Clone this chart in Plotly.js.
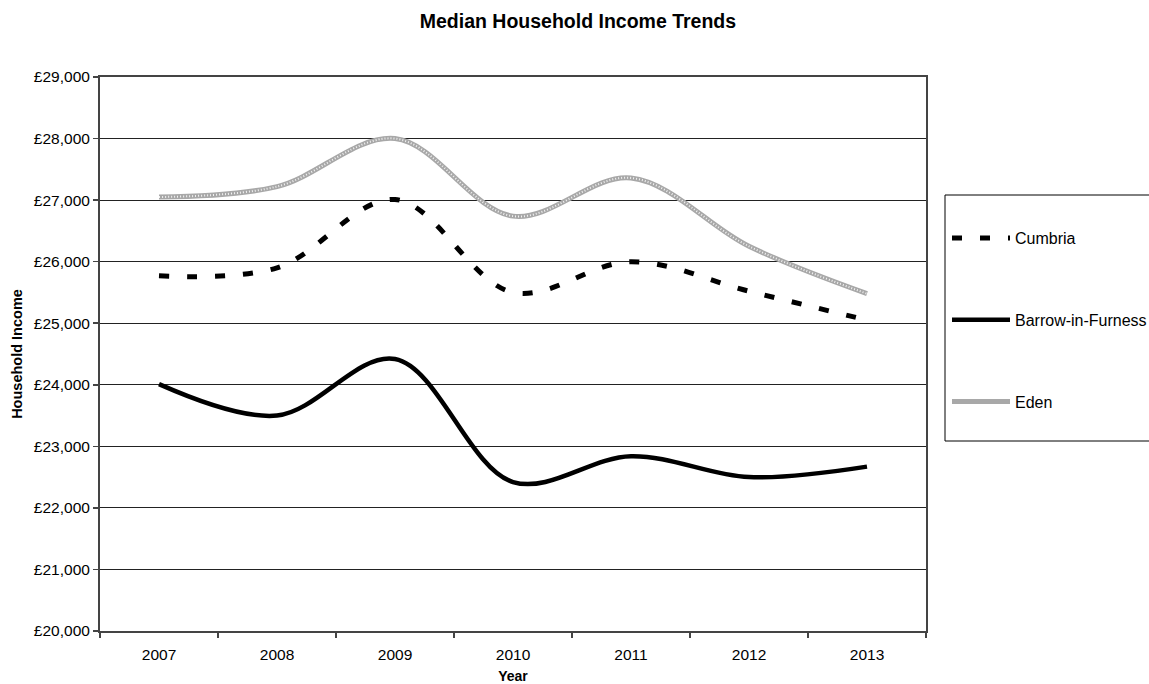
<!DOCTYPE html>
<html>
<head>
<meta charset="utf-8">
<script src="https://cdn.plot.ly/plotly-3.0.1.min.js"></script>
<style>html,body{margin:0;padding:0;background:#fff;}#chart{width:1149px;height:684px;}</style>
</head>
<body>
<div id="chart"></div>
<script>
var years = ['2007', '2008', '2009', '2010', '2011', '2012', '2013'];
var cumbria = [25770, 25900, 27010, 25500, 26000, 25520, 25050];
var barrow = [24010, 23500, 24420, 22420, 22840, 22500, 22670];
var eden = [27050, 27220, 28000, 26740, 27360, 26250, 25480];

var FONT = 'Liberation Sans, Arial, sans-serif';

var PL = 100, PR = 926, PT = 77, PB = 631;
function px2x(px) { return (px - PL) / (PR - PL); }
function px2y(py) { return (PB - py) / (PB - PT); }

var traces = [
  {
    x: years, y: cumbria, name: 'Cumbria', type: 'scatter', mode: 'lines',
    legendgroup: 'a',
    line: {color: '#000', width: 5, dash: '10px,18px', shape: 'spline', smoothing: 1}
  },
  {
    x: years, y: barrow, name: 'Barrow-in-Furness', type: 'scatter', mode: 'lines',
    legendgroup: 'b',
    line: {color: '#000', width: 4.5, shape: 'spline', smoothing: 1}
  },
  {
    x: years, y: eden, name: 'Eden', type: 'scatter', mode: 'lines',
    legendgroup: 'c',
    line: {color: '#a8a8a8', width: 5, shape: 'spline', smoothing: 1}
  },
  {
    x: years, y: eden, name: 'Eden', type: 'scatter', mode: 'lines',
    legendgroup: 'c', showlegend: false, hoverinfo: 'skip',
    line: {color: '#f2f2f2', width: 2, dash: '1px,2px', shape: 'spline', smoothing: 1}
  }
];

var layout = {
  width: 1149, height: 684,
  margin: {l: PL, r: 1149 - PR, t: PT, b: 684 - PB},
  paper_bgcolor: '#fff', plot_bgcolor: '#fff',
  font: {family: FONT, color: '#000', size: 15},
  separators: '.,',
  title: {
    text: '<b>Median Household Income Trends</b>',
    font: {family: FONT, size: 19.5, color: '#000'},
    x: 0.503, xref: 'container', xanchor: 'center',
    y: 1 - 21 / 684, yref: 'container', yanchor: 'middle'
  },
  xaxis: {
    type: 'category',
    range: [-0.5, 6.5],
    tickson: 'boundaries',
    ticks: 'outside', ticklen: 5, tickcolor: '#444', tickwidth: 1.5,
    ticklabelstandoff: 8,
    showline: true, linecolor: '#444', linewidth: 2, mirror: true,
    showgrid: false, zeroline: false,
    tickfont: {family: FONT, size: 15.5, color: '#000'},
    title: {text: '<b>Year</b>', font: {family: FONT, size: 14, color: '#000'}, standoff: 18}
  },
  yaxis: {
    range: [20000, 29000], dtick: 1000, tick0: 20000,
    tickprefix: '£', tickformat: ',.0f',
    ticks: 'outside', ticklen: 5, tickcolor: '#444', tickwidth: 1.5,
    showline: true, linecolor: '#444', linewidth: 2, mirror: true,
    showgrid: true, gridcolor: '#222', gridwidth: 1,
    zeroline: false,
    tickfont: {family: FONT, size: 15.5, color: '#000'},
    title: {text: '<b>Household Income</b>', font: {family: FONT, size: 14.5, color: '#000'}, standoff: 8}
  },
  legend: {
    x: 947 / 1149, xref: 'container', xanchor: 'left',
    y: 1 - 221 / 684, yref: 'container', yanchor: 'top',
    borderwidth: 0, bgcolor: 'rgba(0,0,0,0)',
    font: {family: FONT, size: 16, color: '#000'},
    traceorder: 'grouped', tracegroupgap: 58,
    itemwidth: 58
  },
  shapes: [
    {
      type: 'rect', xref: 'paper', yref: 'paper', layer: 'below',
      x0: px2x(945), x1: px2x(1170), y0: px2y(195), y1: px2y(441),
      line: {color: '#000', width: 1}, fillcolor: 'rgba(0,0,0,0)'
    }
  ],
  showlegend: true
};

Plotly.newPlot('chart', traces, layout, {displayModeBar: false, staticPlot: true});
</script>
</body>
</html>
